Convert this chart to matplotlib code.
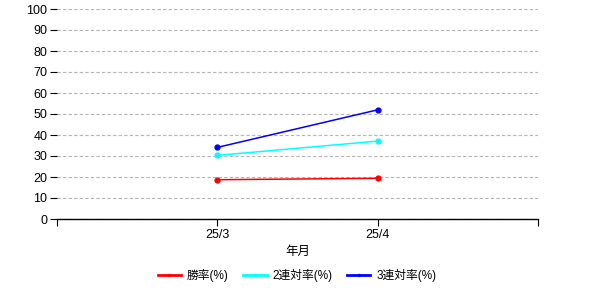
import matplotlib

matplotlib.use("Agg")

import matplotlib.pyplot as plt

plt.rcParams["font.family"] = ["Liberation Sans", "Noto Sans CJK JP", "DejaVu Sans"]

months = ["25/3", "25/4"]
win_rate = [18.7, 19.4]
top2_rate = [30.3, 37.1]
top3_rate = [34.1, 52.0]

series = [
    ("勝率(%)", win_rate, "#ff0000"),
    ("2連対率(%)", top2_rate, "#00ffff"),
    ("3連対率(%)", top3_rate, "#0000ff"),
]


def main() -> None:
    fig = plt.figure(figsize=(6, 3), dpi=100)
    ax = fig.add_axes([0.095, 0.27, 0.802, 0.70])

    xs = list(range(1, len(months) + 1))
    for label, values, color in series:
        ax.plot(xs, values, color=color, lw=1.1, marker="o", markersize=3.5, label=label)

    ax.set_xlim(0, len(months) + 1)
    ax.set_ylim(0, 100)
    ax.set_xticks(range(0, len(months) + 2))
    ax.set_xticklabels([""] + months + [""])
    ax.set_yticks(range(0, 101, 10))
    ax.yaxis.grid(True, color="#b4b4b4", linestyle=(0, (3, 2)), lw=0.8)
    ax.set_axisbelow(True)

    for side in ("left", "top", "right"):
        ax.spines[side].set_visible(False)
    ax.spines["bottom"].set_linewidth(1.0)
    ax.tick_params(axis="both", labelsize=9, length=5, width=0.8, pad=2)
    ax.set_xlabel("年月", fontsize=9, labelpad=4)

    leg = fig.legend(
        loc="center",
        bbox_to_anchor=(0.495, 0.08),
        ncol=3,
        frameon=False,
        fontsize=8.5,
        handlelength=2.0,
        handletextpad=0.5,
        columnspacing=1.2,
        markerscale=0.4,
    )
    for line in leg.get_lines():
        line.set_linewidth(2.0)

    fig.savefig("out.png", dpi=100)
    plt.close(fig)


if __name__ == "__main__":
    main()
